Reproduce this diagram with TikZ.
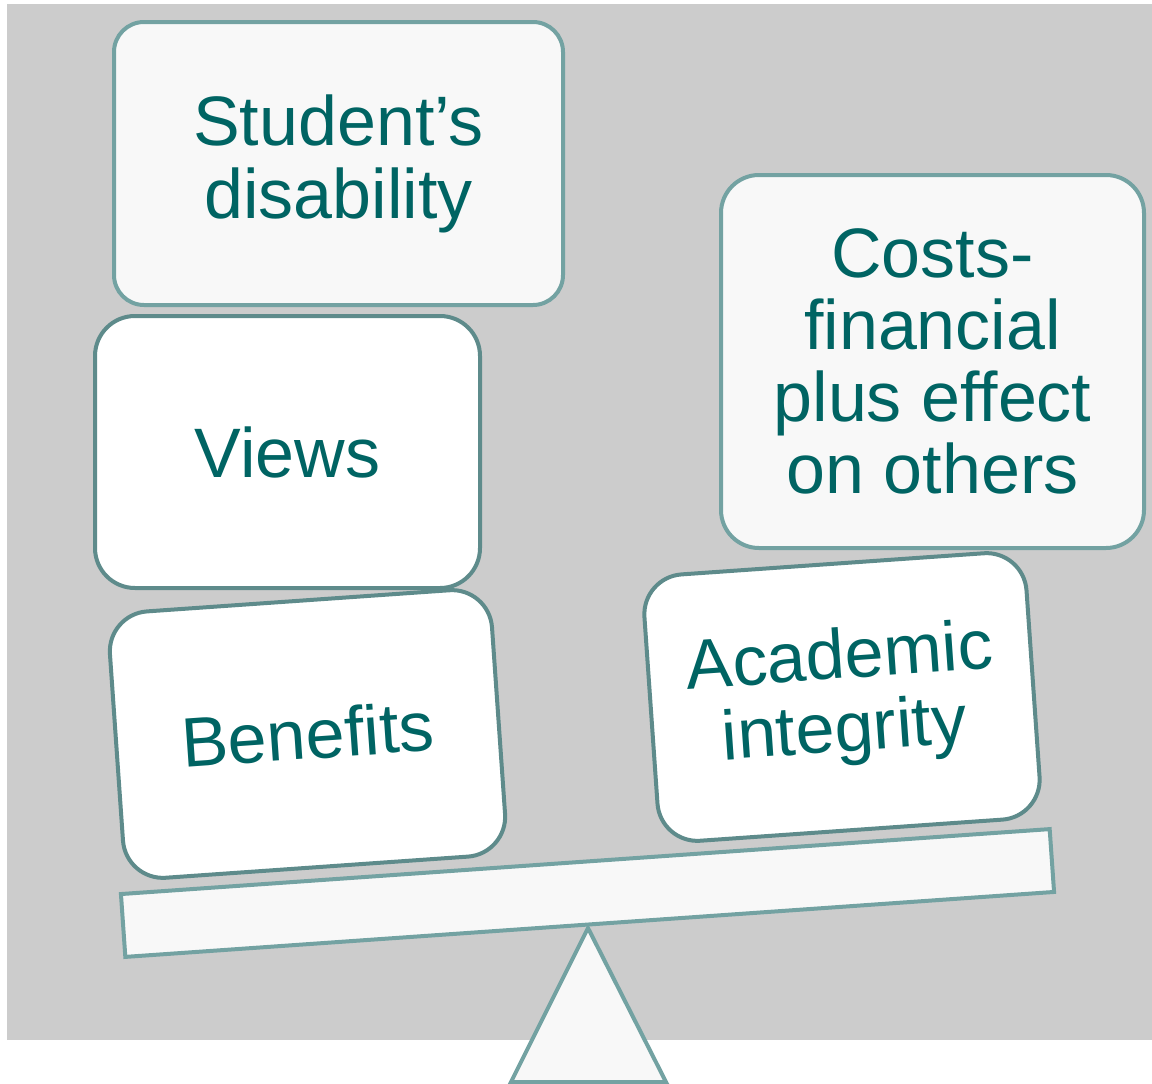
\documentclass[tikz,border=0pt]{standalone}
\usepackage{fontspec}
\setmainfont{Liberation Sans}
\definecolor{bgray}{HTML}{CCCCCC}
\definecolor{lightfill}{HTML}{F8F8F8}
\definecolor{lightline}{HTML}{73A2A2}
\definecolor{darkline}{HTML}{5E8B8B}
\definecolor{txt}{HTML}{006463}
\begin{document}
\begin{tikzpicture}[x=1pt,y=-1pt,
  box/.style={rectangle, rounded corners=#1, line width=4pt, text=txt,
    align=center, inner sep=0pt, font=\fontsize{70}{73}\selectfont},
  lightbox/.style={box=#1, draw=lightline, fill=lightfill},
  whitebox/.style={box=#1, draw=darkline, fill=white},
  beambox/.style={rectangle, draw=lightline, fill=lightfill, line width=4pt,
    inner sep=0pt, minimum width=931pt, minimum height=63pt}
]
\useasboundingbox (0,0) rectangle (1152,1084);
\fill[bgray] (7,4) rectangle (1152,1040);

% fulcrum
\coordinate (apex) at (588,928);
\coordinate (bl) at (511,1082);
\coordinate (br) at (666,1082);
\draw[line width=4pt, draw=lightline, fill=lightfill, line join=miter] (apex) -- (br) -- (bl) -- cycle;

% beam
\node[beambox, rotate=4] (beam) at (587.5,893) {};

% boxes on the beam
\node[whitebox=40pt, rotate=4, minimum width=383pt, minimum height=267pt] (benefits) at (307.5,734) {Benefits};
\node[whitebox=40pt, rotate=4, minimum width=383pt, minimum height=267pt] (academic) at (842,697) {Academic\\integrity};

% stacked boxes
\node[whitebox=40pt, minimum width=385pt, minimum height=272pt] (views) at (287.5,452) {Views};
\node[lightbox=30pt, minimum width=449pt, minimum height=283pt] (student) at (338.5,163.5) {\raisebox{0pt}{Student’s}\\disability};
\node[lightbox=38pt, minimum width=423pt, minimum height=373pt, font=\fontsize{70}{72}\selectfont] (costs) at (932.5,361.5) {Costs-\\financial\\plus effect\\on others};
\end{tikzpicture}
\end{document}
